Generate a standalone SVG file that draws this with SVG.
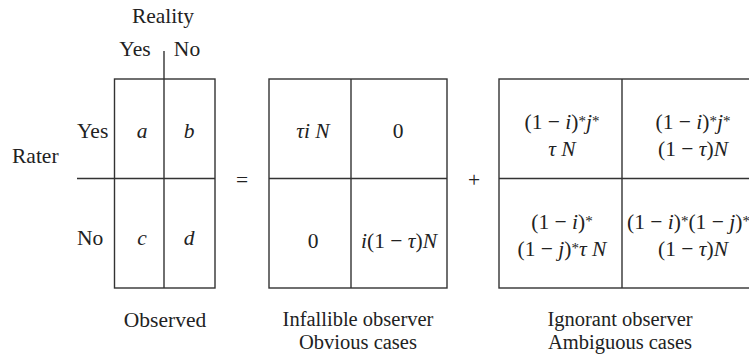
<svg xmlns="http://www.w3.org/2000/svg" width="749" height="360" viewBox="0 0 749 360">
<style>
text{font-family:"Liberation Serif","Times New Roman",serif;font-size:21.5px;fill:#222}
.m{text-anchor:middle}
.it{font-style:italic}
.sup{font-size:15px}
.cap{font-size:20.5px}
.ln{stroke:#333;stroke-width:1.4;fill:none}
</style>
<rect width="749" height="360" fill="#fff"/>
<g id="observed">
<text class="m" x="163" y="23">Reality</text>
<text class="m" x="135" y="56">Yes</text>
<text class="m" x="187" y="56">No</text>
<text x="12" y="163">Rater</text>
<text x="77" y="138">Yes</text>
<text x="77" y="245">No</text>
<rect class="ln" x="114.5" y="79" width="100.5" height="209"/>
<line class="ln" x1="164" y1="51" x2="164" y2="288"/>
<line class="ln" x1="77" y1="178.5" x2="215" y2="178.5"/>
<text class="m it" x="142" y="138">a</text>
<text class="m it" x="189" y="138">b</text>
<text class="m it" x="142" y="245">c</text>
<text class="m it" x="189" y="245">d</text>
<text class="m" x="165" y="327">Observed</text>
</g>
<g id="equals"><text class="m" x="242" y="187">=</text></g>
<g id="infallible">
<rect class="ln" x="269" y="79" width="178" height="209"/>
<line class="ln" x1="351" y1="79" x2="351" y2="288"/>
<line class="ln" x1="269" y1="178.5" x2="447" y2="178.5"/>
<text class="m" x="313" y="138"><tspan class="it">τi</tspan> <tspan class="it">N</tspan></text>
<text class="m" x="398" y="138">0</text>
<text class="m" x="313" y="248">0</text>
<text class="m" x="399" y="248"><tspan class="it">i</tspan>(1 − <tspan class="it">τ</tspan>)<tspan class="it">N</tspan></text>
<text class="m cap" x="358" y="325.5">Infallible observer</text>
<text class="m cap" x="358" y="348.5">Obvious cases</text>
</g>
<g id="plus"><text class="m" x="474" y="187">+</text></g>
<g id="ignorant">
<rect class="ln" x="499" y="79" width="270" height="209"/>
<line class="ln" x1="622" y1="79" x2="622" y2="288"/>
<line class="ln" x1="499" y1="178.5" x2="769" y2="178.5"/>
<text class="m" x="562" y="129">(1 − <tspan class="it">i</tspan>)<tspan class="sup" dy="-3">*</tspan><tspan class="it" dy="3">j</tspan><tspan class="sup" dy="-3">*</tspan></text>
<text class="m" x="562" y="156"><tspan class="it">τ</tspan> <tspan class="it">N</tspan></text>
<text class="m" x="693" y="129">(1 − <tspan class="it">i</tspan>)<tspan class="sup" dy="-3">*</tspan><tspan class="it" dy="3">j</tspan><tspan class="sup" dy="-3">*</tspan></text>
<text class="m" x="693" y="156">(1 − <tspan class="it">τ</tspan>)<tspan class="it">N</tspan></text>
<text class="m" x="562" y="229">(1 − <tspan class="it">i</tspan>)<tspan class="sup" dy="-3">*</tspan></text>
<text class="m" x="562" y="256">(1 − <tspan class="it">j</tspan>)<tspan class="sup" dy="-3">*</tspan><tspan class="it" dy="3">τ</tspan> <tspan class="it">N</tspan></text>
<text x="627" y="229">(1 − <tspan class="it">i</tspan>)<tspan class="sup" dy="-3">*</tspan><tspan dy="3">(1 − </tspan><tspan class="it">j</tspan>)<tspan class="sup" dy="-3">*</tspan></text>
<text class="m" x="693" y="256">(1 − <tspan class="it">τ</tspan>)<tspan class="it">N</tspan></text>
<text class="m cap" x="620" y="325.5">Ignorant observer</text>
<text class="m cap" x="620" y="348.5">Ambiguous cases</text>
</g>
</svg>
